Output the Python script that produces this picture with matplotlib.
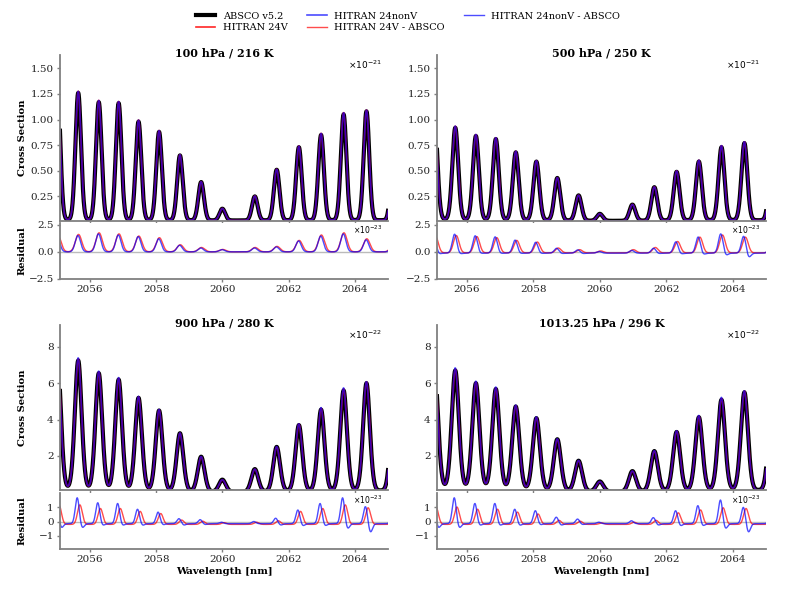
import numpy as np
import matplotlib
matplotlib.use('Agg')
import matplotlib.pyplot as plt

plt.rcParams['font.family'] = 'DejaVu Serif'
plt.rcParams['mathtext.fontset'] = 'dejavusans'

# ---------------- data ----------------
line_centers = [2055.02, 2055.65, 2056.27, 2056.87, 2057.47, 2058.09, 2058.72, 2059.36,
                2060.00, 2060.98, 2061.64, 2062.31, 2062.98, 2063.66, 2064.35, 2065.19]

titles = ['100 hPa / 216 K', '500 hPa / 250 K', '900 hPa / 280 K', '1013.25 hPa / 296 K']
main_exponents = [-21, -21, -22, -22]
resid_exponent = -23

# observed peak heights (in units of 10^exponent)
peaks_100 = [1.38, 1.26, 1.17, 1.16, 0.98, 0.88, 0.65, 0.39, 0.13, 0.25, 0.51, 0.73, 0.85, 1.05, 1.08, 1.10]
peaks_500 = [1.05, 0.92, 0.84, 0.81, 0.68, 0.59, 0.43, 0.26, 0.08, 0.17, 0.34, 0.49, 0.59, 0.73, 0.77, 0.80]
peaks_900 = [7.60, 7.25, 6.55, 6.20, 5.20, 4.50, 3.25, 1.96, 0.70, 1.28, 2.50, 3.70, 4.55, 5.60, 6.00, 6.00]
peaks_1013 = [7.00, 6.70, 6.00, 5.68, 4.72, 4.08, 2.92, 1.74, 0.60, 1.17, 2.27, 3.32, 4.13, 5.09, 5.50, 5.50]

# residual peaks (HITRAN - ABSCO), units of 1e-23
res24v_100 = [1.60, 1.60, 1.75, 1.65, 1.45, 1.30, 0.65, 0.40, 0.22, 0.40, 0.50, 1.05, 1.55, 1.75, 1.20, 1.20]
resnonv_100 = [1.50, 1.50, 1.65, 1.55, 1.40, 1.20, 0.60, 0.35, 0.20, 0.35, 0.45, 1.00, 1.45, 1.65, 1.10, 1.10]
dipnonv_100 = [0.0] * 16

res24v_500 = [1.60, 1.60, 1.50, 1.40, 1.15, 1.00, 0.45, 0.30, 0.18, 0.30, 0.50, 1.05, 1.45, 1.65, 1.45, 1.45]
resnonv_500 = [1.70, 1.75, 1.60, 1.50, 1.20, 1.00, 0.45, 0.30, 0.15, 0.25, 0.45, 1.05, 1.50, 1.80, 1.60, 1.55]
dipnonv_500 = [0.10, 0.10, 0.05, 0.05, 0.05, 0.05, 0.05, 0.05, 0.0, 0.0, 0.05, 0.10, 0.15, 0.25, 0.45, 0.30]

res24v_900 = [1.35, 1.35, 1.10, 1.10, 0.90, 0.75, 0.30, 0.22, 0.12, 0.15, 0.25, 0.90, 1.10, 1.35, 1.15, 1.10]
resnonv_900 = [1.80, 1.80, 1.45, 1.40, 1.00, 0.80, 0.35, 0.28, 0.10, 0.15, 0.38, 0.95, 1.40, 1.80, 1.20, 1.10]
dipnonv_900 = [0.30, 0.30, 0.12, 0.12, 0.12, 0.08, 0.10, 0.06, 0.0, 0.0, 0.10, 0.15, 0.15, 0.35, 0.60, 0.30]

res24v_1013 = [1.20, 1.20, 1.05, 1.05, 0.85, 0.72, 0.28, 0.22, 0.10, 0.15, 0.28, 0.80, 1.00, 1.15, 1.10, 1.05]
resnonv_1013 = [1.80, 1.80, 1.40, 1.40, 1.00, 0.90, 0.45, 0.32, 0.10, 0.20, 0.42, 0.90, 1.25, 1.65, 1.15, 1.10]
dipnonv_1013 = [0.30, 0.30, 0.12, 0.12, 0.12, 0.08, 0.10, 0.06, 0.0, 0.0, 0.10, 0.15, 0.15, 0.35, 0.60, 0.30]

series_labels = ['ABSCO v5.2', 'HITRAN 24V', 'HITRAN 24nonV', 'HITRAN 24V - ABSCO', 'HITRAN 24nonV - ABSCO']

# ---------------- line-shape settings (style) ----------------
panels = [
    dict(peaks=peaks_100, r24=res24v_100, rnv=resnonv_100, dip=dipnonv_100,
         sigma=0.085, gamma=0.08, eta=0.04, base=0.015, ylim=(0.01, 1.63), yticks=[0.25, 0.5, 0.75, 1.0, 1.25, 1.5],
         yfmt='{:.2f}', rylim=(-2.5, 2.65), ryticks=[-2.5, 0.0, 2.5], ryfmt='{:.1f}',
         rs=0.08, shift24=0.01, shiftnv=-0.01, base24=0.0, basenv=0.0),
    dict(peaks=peaks_500, r24=res24v_500, rnv=resnonv_500, dip=dipnonv_500,
         sigma=0.09, gamma=0.09, eta=0.10, base=0.01, ylim=(0.01, 1.63), yticks=[0.25, 0.5, 0.75, 1.0, 1.25, 1.5],
         yfmt='{:.2f}', rylim=(-2.5, 2.65), ryticks=[-2.5, 0.0, 2.5], ryfmt='{:.1f}',
         rs=0.07, shift24=0.03, shiftnv=-0.02, base24=-0.10, basenv=-0.12),
    dict(peaks=peaks_900, r24=res24v_900, rnv=resnonv_900, dip=dipnonv_900,
         sigma=0.105, gamma=0.10, eta=0.15, base=0.0, ylim=(0.13, 9.2), yticks=[2, 4, 6, 8],
         yfmt='{:.0f}', rylim=(-1.9, 1.97), ryticks=[-1, 0, 1], ryfmt='{:.0f}',
         rs=0.06, shift24=0.05, shiftnv=-0.03, base24=-0.20, basenv=-0.15),
    dict(peaks=peaks_1013, r24=res24v_1013, rnv=resnonv_1013, dip=dipnonv_1013,
         sigma=0.11, gamma=0.11, eta=0.17, base=0.0, ylim=(0.13, 9.2), yticks=[2, 4, 6, 8],
         yfmt='{:.0f}', rylim=(-1.9, 1.97), ryticks=[-1, 0, 1], ryfmt='{:.0f}',
         rs=0.06, shift24=0.05, shiftnv=-0.03, base24=-0.20, basenv=-0.15),
]

c = np.array(line_centers)
x = np.linspace(2054.8, 2065.3, 4000)


def shape(d, sigma, gamma, eta):
    return (1 - eta) * np.exp(-0.5 * (d / sigma) ** 2) + eta * gamma ** 2 / (d ** 2 + gamma ** 2)


def gauss(d, s):
    return np.exp(-0.5 * (d / s) ** 2)


fig = plt.figure(figsize=(8, 5.9), dpi=100)
W, H = 800.0, 590.0
lefts = [60, 437]
widths = [328, 329]
main_tb = [(55, 221), (325, 490)]
res_tb = [(223, 279), (493, 549)]
SP = '#808080'

handles = None
for k, p in enumerate(panels):
    row, col = divmod(k, 2)
    l, w = lefts[col], widths[col]
    t, b = main_tb[row]
    ax = fig.add_axes([l / W, 1 - b / H, w / W, (b - t) / H])
    rt, rb = res_tb[row]
    rax = fig.add_axes([l / W, 1 - rb / H, w / W, (rb - rt) / H], sharex=ax)

    obs = np.array(p['peaks'])
    A = shape(c[:, None] - c[None, :], p['sigma'], p['gamma'], p['eta'])
    strengths = np.linalg.solve(A, obs - p['base'])
    absco = shape(x[:, None] - c[None, :], p['sigma'], p['gamma'], p['eta']) @ strengths + p['base']

    rs = p['rs']
    r24 = gauss(x[:, None] - c[None, :] - p['shift24'], rs * 1.2) @ np.array(p['r24']) + p['base24']
    rnv = (gauss(x[:, None] - c[None, :] - p['shiftnv'], rs) @ np.array(p['rnv'])
           - gauss(x[:, None] - c[None, :] - 0.12, rs) @ np.array(p['dip']) + p['basenv'])
    scale = 10.0 ** (resid_exponent - main_exponents[k])
    h24 = absco + r24 * scale
    hnv = absco + rnv * scale

    l1, = ax.plot(x, absco, color='black', lw=3.0, label=series_labels[0])
    l2, = ax.plot(x, h24, color='red', lw=1.2, alpha=0.85, label=series_labels[1])
    l3, = ax.plot(x, hnv, color='blue', lw=1.2, alpha=0.7, label=series_labels[2])
    rax.axhline(0, color='#bbbbbb', lw=1.0, zorder=0)
    l4, = rax.plot(x, r24, color='red', lw=1.0, alpha=0.7, label=series_labels[3])
    l5, = rax.plot(x, rnv, color='blue', lw=1.0, alpha=0.7, label=series_labels[4])
    if handles is None:
        handles = [l1, l2, l3, l4, l5]

    ax.set_xlim(2055.1, 2065.0)
    ax.set_ylim(*p['ylim'])
    ax.set_yticks(p['yticks'])
    ax.set_yticklabels([p['yfmt'].format(v) for v in p['yticks']])
    rax.set_ylim(*p['rylim'])
    rax.set_yticks(p['ryticks'])
    rax.set_yticklabels([p['ryfmt'].format(v).replace('-', '\u2212') for v in p['ryticks']])
    ax.set_xticks([2056, 2058, 2060, 2062, 2064])
    rax.set_xticklabels(['2056', '2058', '2060', '2062', '2064'])
    plt.setp(ax.get_xticklabels(), visible=False)

    for a in (ax, rax):
        for s in ('top', 'right'):
            a.spines[s].set_visible(False)
        for s in ('left', 'bottom'):
            a.spines[s].set_color(SP)
            a.spines[s].set_linewidth(1.3)
        a.tick_params(colors=SP, labelcolor='#222222', labelsize=7.5, length=2.5, width=1.0, pad=2)

    ax.text(0.5, 1.0 + 1.5 / (b - t), titles[k], transform=ax.transAxes, ha='center', va='center',
            fontsize=8, fontweight='bold')
    ax.text(0.982, 0.94, r'$\times10^{%d}$' % main_exponents[k], transform=ax.transAxes,
            ha='right', va='center', fontsize=6.5, family='DejaVu Sans')
    rax.text(0.982, 0.875, r'$\times10^{%d}$' % resid_exponent, transform=rax.transAxes,
             ha='right', va='center', fontsize=5.5, family='DejaVu Sans')

    if col == 0:
        ax.set_ylabel('Cross Section', fontsize=7.2, fontweight='bold')
        rax.set_ylabel('Residual', fontsize=7.2, fontweight='bold')
        ax.yaxis.set_label_coords(-33 / w, 0.5)
        rax.yaxis.set_label_coords(-33 / w, 0.5)
    if row == 1:
        rax.set_xlabel('Wavelength [nm]', fontsize=7.2, fontweight='bold', labelpad=2)

fig.legend(handles=handles, labels=series_labels, loc='upper center', bbox_to_anchor=(0.51, 0.992),
           ncol=3, frameon=False, fontsize=7, handlelength=2.0, columnspacing=2.0,
           borderaxespad=0.3, labelspacing=0.3)

fig.savefig('out.png', dpi=100)
